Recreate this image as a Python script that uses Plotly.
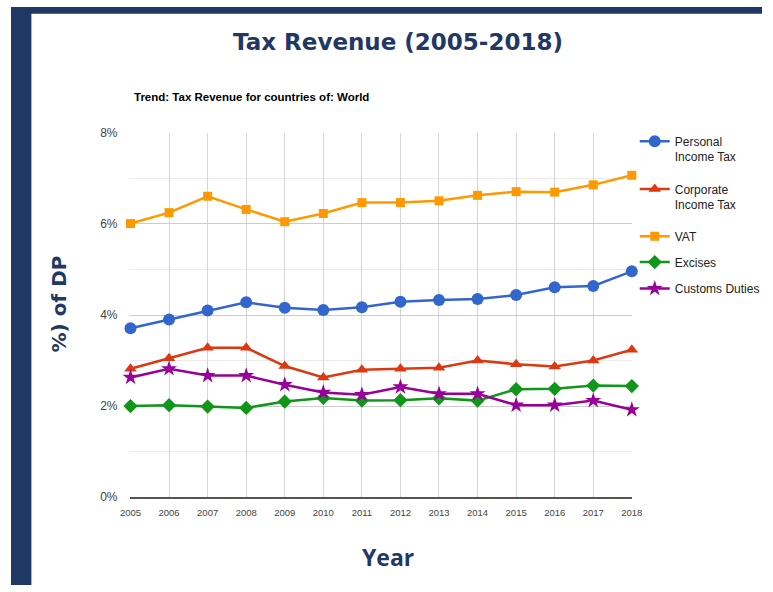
import plotly.graph_objects as go

years = [2005, 2006, 2007, 2008, 2009, 2010, 2011, 2012, 2013, 2014, 2015, 2016, 2017, 2018]
personal_income_tax = [3.71, 3.90, 4.10, 4.28, 4.16, 4.11, 4.17, 4.29, 4.33, 4.35, 4.44, 4.61, 4.64, 4.96]
corporate_income_tax = [2.82, 3.05, 3.28, 3.28, 2.88, 2.63, 2.80, 2.82, 2.84, 3.00, 2.92, 2.87, 3.00, 3.24]
vat = [6.01, 6.25, 6.61, 6.32, 6.05, 6.23, 6.47, 6.47, 6.51, 6.63, 6.71, 6.70, 6.86, 7.07]
excises = [2.00, 2.02, 1.99, 1.96, 2.10, 2.18, 2.12, 2.13, 2.17, 2.12, 2.37, 2.38, 2.45, 2.44]
customs_duties = [2.63, 2.82, 2.67, 2.67, 2.47, 2.30, 2.25, 2.42, 2.27, 2.27, 2.02, 2.02, 2.12, 1.92]

series_names = ["Personal<br>Income Tax", "Corporate<br>Income Tax", "VAT", "Excises", "Customs Duties"]
series_values = [personal_income_tax, corporate_income_tax, vat, excises, customs_duties]
series_colors = ["#3366CC", "#DC3912", "#FF9900", "#109618", "#990099"]
series_symbols = ["circle", "triangle-up", "square", "diamond", "star"]
series_sizes = [12, 11, 9, 11, 12]

y_tick_vals = [0, 2, 4, 6, 8]
y_tick_text = ["0%", "2%", "4%", "6%", "8%"]

W, H = 773, 592
NAVY = "#1F3864"
SANS = "Liberation Sans, Arial, sans-serif"
LEG_FONT = 12
LINE_H = LEG_FONT * 1.3

def px_x(p):
    return p / W

def px_y(p):
    return 1 - p / H

# legend entries: (first-line centre y in px, number of lines)
legend_rows = [(138, 2), (187, 2), (235, 1), (261.5, 1), (288.5, 1)]
legend_ids = ["legend", "legend2", "legend3", "legend4", "legend5"]

fig = go.Figure()
for i, (name, vals, col, sym, sz) in enumerate(zip(series_names, series_values, series_colors, series_symbols, series_sizes)):
    fig.add_trace(go.Scatter(
        x=years, y=vals, name=name, mode="lines+markers",
        line=dict(color=col, width=2.5),
        marker=dict(color=col, symbol=sym, size=sz),
        cliponaxis=False, legend=legend_ids[i],
    ))

legend_layouts = {}
for lid, (yc, nl) in zip(legend_ids, legend_rows):
    centre = yc + (nl - 1) * LINE_H / 2
    legend_layouts[lid] = dict(
        x=px_x(642), y=px_y(centre), xanchor="left", yanchor="middle",
        font=dict(family=SANS, size=LEG_FONT, color="#222222"),
        valign="top", bgcolor="rgba(0,0,0,0)", borderwidth=0,
    )

fig.update_layout(
    width=W, height=H,
    margin=dict(l=0, r=0, t=0, b=0),
    paper_bgcolor="white", plot_bgcolor="white",
    showlegend=True,
    xaxis=dict(
        domain=[px_x(123), px_x(639)], range=[2005, 2018],
        tickmode="array", tickvals=years, ticktext=[str(y) for y in years],
        showgrid=True, gridcolor="#d6d6d6", gridwidth=1,
        showline=True, linecolor="#555555", linewidth=1.5,
        zeroline=False, ticks="",
        tickfont=dict(family=SANS, size=9.5, color="#444444"),
        ticklabelstandoff=6,
    ),
    yaxis=dict(
        domain=[px_y(502), px_y(129)], range=[0, 8],
        tickmode="array", tickvals=y_tick_vals, ticktext=y_tick_text,
        showgrid=True, gridcolor="#cccccc", gridwidth=1,
        minor=dict(dtick=1, showgrid=True, gridcolor="#ebebeb", gridwidth=1),
        zeroline=False, showline=False, ticks="",
        tickfont=dict(family=SANS, size=12, color="#444444"),
        ticklabelstandoff=12,
    ),
    shapes=[
        dict(type="rect", xref="paper", yref="paper", x0=0, x1=px_x(21), y0=0, y1=1,
             fillcolor=NAVY, line=dict(width=0), layer="above"),
        dict(type="rect", xref="paper", yref="paper", x0=0, x1=1, y0=px_y(7), y1=1,
             fillcolor=NAVY, line=dict(width=0), layer="above"),
    ],
    annotations=[
        dict(text="<b>Tax Revenue (2005-2018)</b>", xref="paper", yref="paper",
             x=px_x(398), y=px_y(36), xanchor="center", yanchor="middle", showarrow=False,
             font=dict(family="DejaVu Sans", size=23, color=NAVY)),
        dict(text="<b>Trend: Tax Revenue for countries of: World</b>", xref="paper", yref="paper",
             x=px_x(125), y=px_y(92), xanchor="left", yanchor="middle", showarrow=False,
             font=dict(family=SANS, size=11.5, color="#000000")),
        dict(text="<b>%) of DP</b>", xref="paper", yref="paper",
             x=px_x(49), y=px_y(304), xanchor="center", yanchor="middle", showarrow=False,
             textangle=-90, font=dict(family="DejaVu Sans", size=20, color=NAVY)),
        dict(text="<b>Year</b>", xref="paper", yref="paper",
             x=px_x(388), y=px_y(563), xanchor="center", yanchor="middle", showarrow=False,
             font=dict(family="Open Sans", size=23, color=NAVY)),
    ],
)
fig.update_layout(**legend_layouts)

fig.write_html(
    "out.html",
    config={"displayModeBar": False},
    post_script="document.body.style.margin='0';document.body.style.overflow='hidden';"
                "document.documentElement.style.overflow='hidden';",
)
